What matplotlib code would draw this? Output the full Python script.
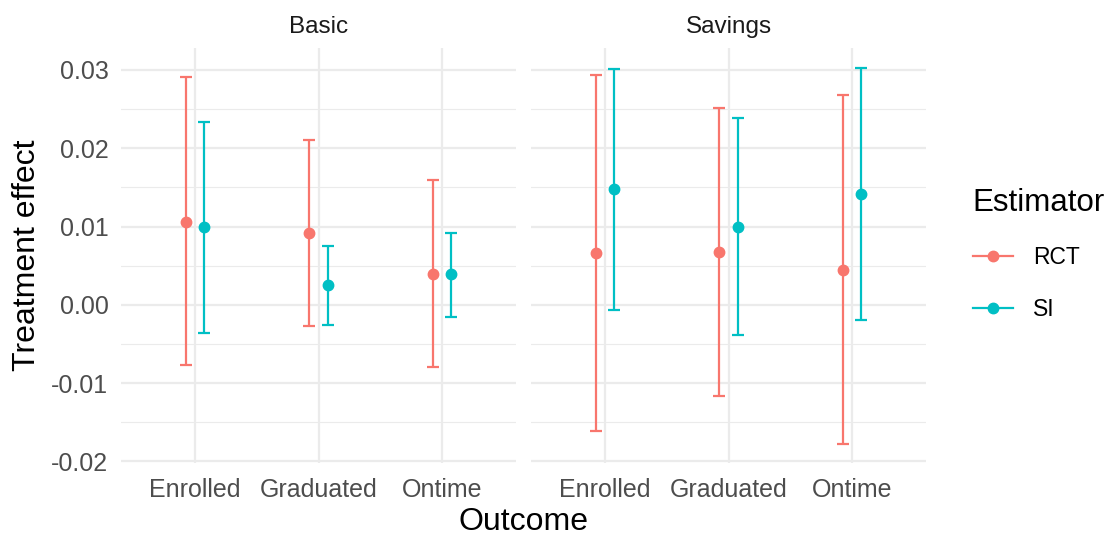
import matplotlib.pyplot as plt
import numpy as np
from matplotlib.lines import Line2D

plt.rcParams['font.family'] = ['Liberation Sans', 'DejaVu Sans']

outcomes = ['Enrolled', 'Graduated', 'Ontime']
panels = ['Basic', 'Savings']
estimators = ['RCT', 'SI']
colors = {'RCT': '#F8766D', 'SI': '#00BFC4'}

# point estimates and interval bounds, per panel, per outcome
est = {
    'Basic': {'RCT': [0.0106, 0.0092, 0.0040], 'SI': [0.0100, 0.0025, 0.0039]},
    'Savings': {'RCT': [0.0066, 0.0068, 0.0045], 'SI': [0.0148, 0.0100, 0.0142]},
}
lower = {
    'Basic': {'RCT': [-0.0077, -0.0027, -0.0079], 'SI': [-0.0036, -0.0026, -0.0015]},
    'Savings': {'RCT': [-0.0161, -0.0117, -0.0178], 'SI': [-0.0007, -0.0039, -0.0020]},
}
upper = {
    'Basic': {'RCT': [0.0291, 0.0211, 0.0159], 'SI': [0.0234, 0.0075, 0.0092]},
    'Savings': {'RCT': [0.0293, 0.0252, 0.0268], 'SI': [0.0301, 0.0238, 0.0303]},
}

fig = plt.figure(figsize=(11.1, 5.36), dpi=100)
grid_col = '#EBEBEB'
tick_col = '#4D4D4D'

lefts = [121 / 1110, 531 / 1110]
width = 395 / 1110
bottom = 1 - 463 / 536
height = (463 - 48) / 536

offsets = {'RCT': -0.073, 'SI': 0.073}
x = np.arange(1, len(outcomes) + 1)

for i, panel in enumerate(panels):
    ax = fig.add_axes([lefts[i], bottom, width, height])
    for e in estimators:
        y = np.array(est[panel][e])
        lo = np.array(lower[panel][e])
        hi = np.array(upper[panel][e])
        ax.errorbar(x + offsets[e], y, yerr=[y - lo, hi - y], fmt='o', color=colors[e],
                    ms=7.5, elinewidth=1.6, capsize=4.3, capthick=1.6, zorder=3)
    ax.set_xlim(0.4, 3.6)
    ax.set_ylim(-0.0202, 0.0328)
    ax.set_xticks(x)
    ax.set_yticks([-0.02, -0.01, 0.0, 0.01, 0.02, 0.03])
    ax.set_yticks([-0.015, -0.005, 0.005, 0.015, 0.025], minor=True)
    ax.grid(True, which='major', color=grid_col, linewidth=1.6, zorder=0)
    ax.grid(True, which='minor', axis='y', color=grid_col, linewidth=0.8, zorder=0)
    ax.set_axisbelow(True)
    for s in ax.spines.values():
        s.set_visible(False)
    ax.tick_params(which='both', length=0, labelsize=18, labelcolor=tick_col)
    ax.tick_params(axis='y', pad=9)
    ax.tick_params(axis='x', pad=11)
    ax.set_xticklabels(outcomes)
    if i == 0:
        ax.set_yticklabels(['-0.02', '-0.01', '0.00', '0.01', '0.02', '0.03'])
    else:
        ax.set_yticklabels([])
    ax.set_title(panel, fontsize=17.5, color='#1A1A1A', pad=11)

fig.text(27 / 1110, 1 - 255 / 536, 'Treatment effect', rotation=90, fontsize=23,
         ha='center', va='center')
fig.text(523 / 1110, 1 - 522 / 536, 'Outcome', fontsize=23, ha='center', va='center')

handles = [Line2D([], [], color=colors[e], marker='o', ms=7.5, lw=1.6) for e in estimators]
leg = fig.legend(handles, estimators, title='Estimator', loc='upper left',
                 bbox_to_anchor=(952 / 1110, 1 - 167 / 536), frameon=False,
                 fontsize=16.5, title_fontsize=22.5, handlelength=1.75,
                 labelspacing=1.25, handletextpad=0.9)
leg._legend_box.align = 'left'

fig.savefig('out.png', dpi=100)
